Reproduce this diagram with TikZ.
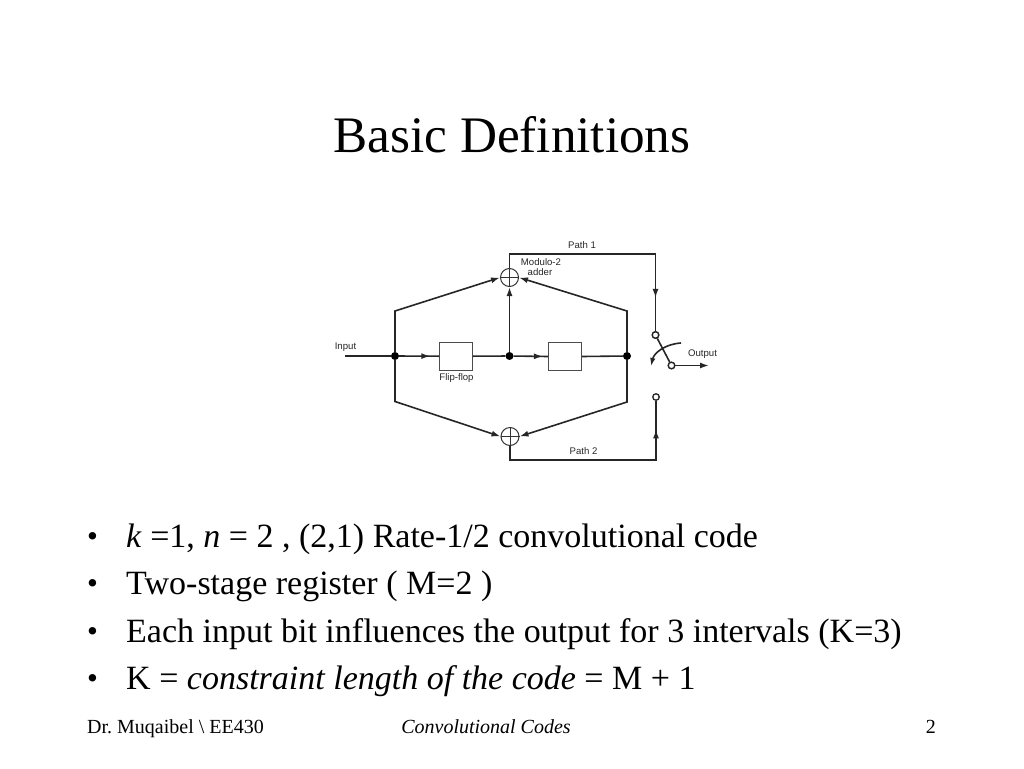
\documentclass[tikz,border=0pt]{standalone}
\usepackage{fontspec}
\setmainfont{Liberation Serif}
\newfontfamily\labelfont{Liberation Sans}
\frenchspacing
\usetikzlibrary{arrows.meta,decorations.markings}
\tikzset{
  wire/.style={line width=1.6pt,draw=black!85},
  midarrow/.style={wire,decoration={markings,mark=at position #1 with {\arrow{Latex[length=9pt,width=6pt]}}},postaction={decorate}},
  flow/.style={wire,-{Latex[length=9pt,width=6pt]}},
  dotnode/.style={circle,fill=black,inner sep=0pt,minimum size=8pt},
  adder/.style={circle,draw=black!80,line width=1pt,inner sep=0pt,minimum size=18pt},
  contact/.style={circle,draw=black!85,fill=white,line width=1.3pt,inner sep=0pt,minimum size=6.5pt},
  ffbox/.style={rectangle,draw=black!70,line width=.9pt,inner sep=0pt,minimum width=33pt,minimum height=28pt},
  tiny/.style={font=\labelfont\fontsize{9.6}{11}\selectfont,text=black!85,inner sep=0pt,align=center},
  bullettext/.style={anchor=base west,inner sep=0pt,font=\fontsize{34}{36}\selectfont},
  bulletmark/.style={anchor=base west,inner sep=0pt,font=\fontsize{31}{33}\selectfont},
  foot/.style={anchor=base,inner sep=0pt,font=\fontsize{20}{22}\selectfont}
}
\begin{document}
\begin{tikzpicture}[x=1pt,y=-1pt]
\useasboundingbox (0,0) rectangle (1024,768);
\node[anchor=base,inner sep=0pt,font=\fontsize{51.2}{54}\selectfont] (title) at (512,152) {Basic Definitions};

% diagram nodes
\coordinate (in) at (345,356);
\node[dotnode] (d1) at (395,356) {};
\node[dotnode] (d2) at (509.5,356) {};
\node[dotnode] (d3) at (627,356) {};
\node[ffbox] (ff1) at (456,356.2) {};
\node[ffbox] (ff2) at (565,356.5) {};
\node[adder] (a1) at (509.5,277.5) {};
\node[adder] (a2) at (510,436.5) {};
\draw[line width=.8pt,black!80] (a1.north)--(a1.south) (a1.west)--(a1.east) (a2.north)--(a2.south) (a2.west)--(a2.east);
\coordinate (tl) at (395,311);
\coordinate (tr) at (627,311);
\coordinate (bl) at (395,401.5);
\coordinate (br) at (627,402);
\coordinate (p1a) at (509.5,254);
\coordinate (p1b) at (655.5,254);
\coordinate (p2a) at (510,460);
\coordinate (p2b) at (656,460);
\node[contact] (c1) at (655.5,335) {};
\node[contact] (c2) at (656,397) {};
\node[contact] (c3) at (671.5,365.5) {};
\coordinate (out) at (709,365.5);
\coordinate (ca) at (681,343);
\coordinate (cb) at (651,366);

% connectors
\draw[wire] (in)--(d1);
\draw[midarrow=.78] (d1)--(ff1.west);
\draw[wire] (ff1.east)--(d2);
\draw[midarrow=.85] (d2)--(ff2.west);
\draw[wire] (ff2.east)--(d3);
\draw[flow] (d2)--(a1.south);
\draw[flow] (d1)--(tl)--(a1.west);
\draw[flow] (d1)--(bl)--(a2.west);
\draw[flow] (d3)--(tr)--(a1.east);
\draw[flow] (d3)--(br)--(a2.east);
\draw[midarrow=.86] (a1.north)--(p1a)--(p1b)--(c1.north);
\draw[midarrow=.87] (a2.south)--(p2a)--(p2b)--(c2.south);
\draw[wire] (c1)--(c3);
\draw[flow] (c3)--(out);
\draw[wire,-{Latex[length=8pt,width=5.5pt]}] (ca) .. controls (665,344) and (654,353) .. (cb);
\node[contact] at (c1) {};
\node[contact] at (c3) {};

% diagram labels
\node[tiny] (linput) at (345.5,347) {Input};
\node[tiny] (lff) at (456.5,378.5) {Flip-flop};
\node[tiny] (lp1) at (582,245.5) {Path 1};
\node[tiny] (lp2) at (583.5,451) {Path 2};
\node[tiny] (lmod) at (541,262) {Modulo-2};
\node[tiny] (ladd) at (540,272.5) {adder};
\node[tiny] (lout) at (702.5,354.5) {Output};

% bullets
\node[bulletmark] (b1) at (87,546) {•};
\node[bullettext] (t1) at (126,547) {\textit{k} =1, \textit{n} = 2 , (2,1) Rate-1/2 convolutional code};
\node[bulletmark] (b2) at (87,593) {•};
\node[bullettext] (t2) at (126,594) {Two-stage register ( M=2 )};
\node[bulletmark] (b3) at (87,641) {•};
\node[bullettext] (t3) at (126,642) {Each input bit influences the output for 3 intervals (K=3)};
\node[bulletmark] (b4) at (87,688) {•};
\node[bullettext] (t4) at (126,689) {K = \textit{constraint length of the code} = M + 1};

% footer
\node[foot,anchor=base west] (f1) at (87,733) {Dr. Muqaibel \textbackslash{} EE430};
\node[foot] (f2) at (486,733) {\textit{Convolutional Codes}};
\node[foot,anchor=base east] (f3) at (936,733) {2};
\end{tikzpicture}
\end{document}
